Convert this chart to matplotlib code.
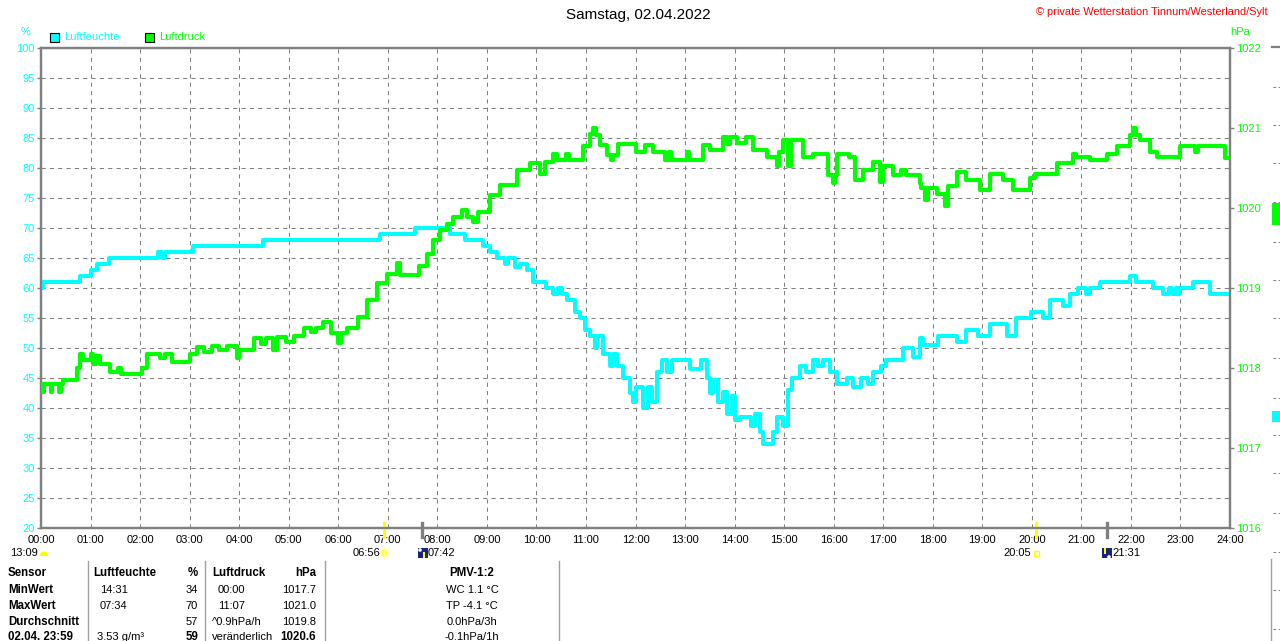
import matplotlib
matplotlib.use("Agg")
import matplotlib.pyplot as plt
from matplotlib.patches import Rectangle, Circle, Wedge
from matplotlib.lines import Line2D
from matplotlib.transforms import IdentityTransform

plt.rcParams['font.family'] = ['Liberation Sans', 'DejaVu Sans']

# ---------------- data ----------------
title = "Samstag, 02.04.2022"
copyright_text = "\u00a9 private Wetterstation Tinnum/Westerland/Sylt"
hour_labels = ["%02d:00" % h for h in range(25)]
hum_ticks = list(range(20, 101, 5))
pres_ticks = [1016, 1017, 1018, 1019, 1020, 1021, 1022]

# humidity (%) : (hour, value)
humidity = [
    (0.0, 60), (0.05, 61), (0.79, 62), (1.0, 63), (1.13, 64), (1.37, 65), (2.36, 66), (2.45, 65),
    (2.5, 66), (3.07, 67), (4.48, 68), (6.84, 69), (7.55, 70), (8.25, 69), (8.56, 68), (8.93, 67),
    (9.06, 66), (9.2, 65), (9.36, 64), (9.43, 65), (9.57, 63.5), (9.67, 64), (9.8, 63), (9.94, 61),
    (10.2, 60), (10.34, 59), (10.44, 60), (10.51, 59), (10.61, 58), (10.78, 56), (10.88, 55),
    (10.98, 53), (11.08, 52), (11.18, 50), (11.22, 52), (11.35, 49), (11.48, 47), (11.55, 49),
    (11.62, 47), (11.75, 45), (11.89, 42.5), (11.95, 41), (12.02, 43.5), (12.16, 40), (12.26, 43.5),
    (12.33, 41), (12.43, 46), (12.53, 48), (12.63, 46), (12.73, 48), (13.1, 46.5), (13.33, 48),
    (13.44, 45), (13.5, 42.5), (13.57, 44.7), (13.67, 41), (13.77, 42.7), (13.84, 39), (13.94, 42),
    (14.0, 38), (14.11, 38.5), (14.34, 37), (14.41, 39), (14.51, 36), (14.58, 34), (14.78, 36),
    (14.85, 38.5), (14.98, 37), (15.08, 43), (15.15, 45), (15.32, 47), (15.45, 46), (15.59, 48),
    (15.69, 47), (15.79, 48), (15.93, 46), (16.06, 44), (16.26, 45), (16.4, 43.5), (16.55, 45),
    (16.7, 44), (16.8, 46), (16.95, 47), (17.05, 48), (17.4, 50), (17.6, 48.5), (17.74, 51.7),
    (17.8, 50.5), (18.1, 52), (18.48, 51), (18.68, 53), (18.92, 52), (19.15, 54), (19.49, 52),
    (19.69, 55), (19.99, 56), (20.23, 55), (20.36, 58), (20.63, 57), (20.77, 59), (20.93, 60),
    (21.1, 59), (21.17, 60), (21.37, 61), (21.98, 62), (22.1, 61), (22.45, 60), (22.65, 59),
    (22.76, 60), (22.83, 59), (22.9, 60), (22.96, 59), (23.0, 60), (23.25, 61), (23.6, 59), (24.0, 59),
]

# air pressure (hPa) : (hour, value)
pressure = [
    (0.0, 1017.8), (0.03, 1017.7), (0.06, 1017.8), (0.2, 1017.7), (0.23, 1017.8), (0.37, 1017.7),
    (0.4, 1017.8), (0.45, 1017.85), (0.72, 1018.0), (0.79, 1018.18), (0.85, 1018.1), (1.0, 1018.18),
    (1.05, 1018.05), (1.12, 1018.15), (1.2, 1018.05), (1.4, 1017.95), (1.55, 1018.0), (1.62, 1017.92),
    (2.03, 1018.0), (2.13, 1018.18), (2.4, 1018.12), (2.5, 1018.18), (2.64, 1018.08), (3.0, 1018.18),
    (3.15, 1018.26), (3.3, 1018.2), (3.45, 1018.27), (3.6, 1018.22), (3.75, 1018.27), (3.95, 1018.12),
    (4.0, 1018.23), (4.29, 1018.37), (4.45, 1018.3), (4.55, 1018.37), (4.69, 1018.23), (4.76, 1018.39),
    (4.95, 1018.33), (5.1, 1018.4), (5.3, 1018.5), (5.45, 1018.45), (5.55, 1018.5), (5.7, 1018.58),
    (5.85, 1018.44), (6.0, 1018.31), (6.05, 1018.44), (6.17, 1018.5), (6.4, 1018.64), (6.58, 1018.85),
    (6.78, 1019.06), (6.98, 1019.18), (7.18, 1019.31), (7.25, 1019.16), (7.62, 1019.27), (7.79, 1019.43),
    (7.92, 1019.6), (8.05, 1019.72), (8.2, 1019.8), (8.32, 1019.89), (8.5, 1019.98), (8.6, 1019.89),
    (8.72, 1019.83), (8.83, 1019.95), (9.06, 1020.16), (9.26, 1020.29), (9.6, 1020.48), (9.87, 1020.56),
    (10.07, 1020.43), (10.17, 1020.58), (10.34, 1020.68), (10.41, 1020.6), (10.6, 1020.68),
    (10.65, 1020.6), (10.95, 1020.77), (11.08, 1020.93), (11.15, 1021.0), (11.2, 1020.91),
    (11.28, 1020.79), (11.42, 1020.66), (11.5, 1020.6), (11.55, 1020.66), (11.65, 1020.8),
    (12.02, 1020.7), (12.19, 1020.79), (12.36, 1020.7), (12.59, 1020.6), (12.68, 1020.7),
    (12.72, 1020.6), (13.03, 1020.7), (13.08, 1020.6), (13.37, 1020.79), (13.5, 1020.73),
    (13.77, 1020.89), (13.85, 1020.8), (13.9, 1020.89), (14.04, 1020.81), (14.24, 1020.89),
    (14.38, 1020.73), (14.65, 1020.64), (14.85, 1020.52), (14.9, 1020.7), (14.98, 1020.85),
    (15.08, 1020.52), (15.13, 1020.85), (15.39, 1020.64), (15.59, 1020.68), (15.89, 1020.41),
    (15.98, 1020.31), (16.03, 1020.41), (16.06, 1020.68), (16.3, 1020.64), (16.43, 1020.35),
    (16.59, 1020.48), (16.8, 1020.58), (16.93, 1020.33), (17.0, 1020.52), (17.2, 1020.41),
    (17.35, 1020.48), (17.45, 1020.41), (17.74, 1020.31), (17.77, 1020.25), (17.85, 1020.1),
    (17.9, 1020.25), (18.08, 1020.18), (18.24, 1020.02), (18.31, 1020.27), (18.48, 1020.45),
    (18.68, 1020.35), (18.95, 1020.22), (19.15, 1020.43), (19.42, 1020.35), (19.62, 1020.22),
    (19.96, 1020.37), (20.06, 1020.43), (20.5, 1020.56), (20.83, 1020.68), (20.9, 1020.64),
    (21.17, 1020.6), (21.51, 1020.68), (21.71, 1020.77), (21.98, 1020.91), (22.05, 1021.0),
    (22.11, 1020.91), (22.18, 1020.85), (22.38, 1020.7), (22.52, 1020.64), (22.99, 1020.77),
    (23.3, 1020.7), (23.35, 1020.77), (23.9, 1020.62), (24.0, 1020.62),
]

# sun / moon events (hour)
sunrise, sunset = 6 + 56 / 60, 20 + 5 / 60
moonrise, moonset = 7 + 42 / 60, 21 + 31 / 60
daylength = "13:09"

table_col1 = ["Sensor", "MinWert", "MaxWert", "Durchschnitt", "02.04. 23:59"]
table_hum_time = ["", "14:31", "07:34", "", "3.53 g/m\u00b3"]
table_hum_val = ["%", "34", "70", "57", "59"]
table_pres_time = ["", "00:00", "11:07", "^0.9hPa/h", "ver\u00e4nderlich"]
table_pres_val = ["hPa", "1017.7", "1021.0", "1019.8", "1020.6"]
table_pmv = ["PMV-1:2", "WC 1.1 \u00b0C", "TP -4.1 \u00b0C", "0.0hPa/3h", "-0.1hPa/1h"]

# ---------------- styling ----------------
CYAN = "#00FFFF"
GREEN = "#00FF00"
YELLOW = "#FFFF00"
NAVY = "#1a237e"
GRAY = "#808080"
W, H = 1280, 641
PIX = IdentityTransform()


def fx(x):
    return x / W


def fy(y):
    return 1 - y / H


def px(x, y):
    return (x, H - y)


fig = plt.figure(figsize=(12.8, 6.41), dpi=100)
fig.patch.set_facecolor("white")

L, R, T, B = 41, 1230, 48, 528
ax = fig.add_axes([fx(L), fy(B), (R - L) / W, (B - T) / H])
ax.set_xlim(0, 24)
ax.set_ylim(20, 100)
ax2 = ax.twinx()
ax2.set_ylim(1016, 1022)

for a in (ax, ax2):
    for s in a.spines.values():
        s.set_color(GRAY)
        s.set_linewidth(1.6)

ax.set_xticks(range(25))
ax.set_xticklabels(hour_labels, fontsize=8)
ax.set_yticks(hum_ticks)
ax.set_yticklabels([str(v) for v in hum_ticks], fontsize=8, color=CYAN)
ax.tick_params(axis="x", length=0, pad=5)
ax.tick_params(axis="y", length=3, width=1, color=GRAY, pad=1.5)
ax.grid(True, color=GRAY, linewidth=0.75, linestyle=(0, (4, 4)))
ax.set_axisbelow(True)

ax2.set_yticks(pres_ticks)
ax2.set_yticklabels([str(v) for v in pres_ticks], fontsize=8, color=GREEN)
ax2.tick_params(axis="y", length=3, width=1, color=GRAY, pad=1.5)

ht = [p[0] for p in humidity]
hv = [p[1] for p in humidity]
pt = [p[0] for p in pressure]
pv = [p[1] for p in pressure]
ax.step(ht, hv, where="post", color=CYAN, linewidth=2.9, zorder=3)
ax2.step(pt, pv, where="post", color=GREEN, linewidth=3.0, zorder=3)

# sun / moon markers on the x axis
xt = ax.get_xaxis_transform()
for t in (sunrise, sunset):
    ax.add_line(Line2D([t, t], [(B - 523) / 480, (B - 537) / 480], transform=xt,
                       color=YELLOW, linewidth=2.2, clip_on=False, zorder=5))
for t in (moonrise, moonset):
    ax.add_line(Line2D([t, t], [(B - 523) / 480, (B - 537) / 480], transform=xt,
                       color=GRAY, linewidth=2.4, clip_on=False, zorder=5))

# titles
fig.text(fx(638), fy(15), title, ha="center", va="center", fontsize=11)
fig.text(fx(1268), fy(12), copyright_text, ha="right", va="center", fontsize=7.9, color="red")
fig.text(fx(26), fy(32), "%", ha="center", va="center", fontsize=8, color=CYAN)
fig.text(fx(1240), fy(32), "hPa", ha="center", va="center", fontsize=8, color=GREEN)

# legend
for x0, col, lab in ((50, CYAN, "Luftfeuchte"), (145, GREEN, "Luftdruck")):
    fig.patches.append(Rectangle(px(x0, 42), 9, 9, transform=PIX,
                                 facecolor=col, edgecolor="black", linewidth=0.8))
    fig.text(fx(x0 + 14), fy(37.5), lab, ha="left", va="center", fontsize=8, color=col)

# sun / moon labels
ly = 553
fig.text(fx(10), fy(ly), daylength, ha="left", va="center", fontsize=8)
fig.patches.append(Wedge(px(44, ly + 3), 4.5, 0, 180, transform=PIX,
                         facecolor=YELLOW, edgecolor="none"))
fig.text(fx(380), fy(ly), "%02d:%02d" % (int(sunrise), round((sunrise % 1) * 60)),
         ha="right", va="center", fontsize=8)
for dx, dy in ((-5, 0), (5, 0), (0, -5), (0, 5), (-4, -4), (4, 4), (-4, 4), (4, -4)):
    fig.add_artist(Line2D([384, 384 + dx], [H - ly, H - ly - dy], transform=PIX,
                          color="#FFFF80", linewidth=0.8))
fig.patches.append(Circle(px(384, ly), 3.2, transform=PIX, facecolor=YELLOW, edgecolor="none"))
fig.patches.append(Rectangle(px(418, ly + 5), 10, 10, transform=PIX,
                             facecolor=NAVY, edgecolor="none"))
fig.patches.append(Circle(px(420, ly - 3), 1.8, transform=PIX, facecolor="white", edgecolor="none"))
fig.patches.append(Rectangle(px(423, ly + 5), 2, 6, transform=PIX,
                             facecolor=YELLOW, edgecolor="none"))
fig.text(fx(428), fy(ly), "%02d:%02d" % (int(moonrise), round((moonrise % 1) * 60)),
         ha="left", va="center", fontsize=8)
fig.text(fx(1031), fy(ly), "%02d:%02d" % (int(sunset), round((sunset % 1) * 60)),
         ha="right", va="center", fontsize=8)
fig.patches.append(Rectangle(px(1034, ly + 3), 5, 5, transform=PIX,
                             facecolor="none", edgecolor=YELLOW, linewidth=1))
fig.patches.append(Rectangle(px(1102, ly + 5), 10, 10, transform=PIX,
                             facecolor=NAVY, edgecolor="none"))
fig.patches.append(Rectangle(px(1104, ly + 1), 2, 6, transform=PIX,
                             facecolor=YELLOW, edgecolor="none"))
fig.patches.append(Circle(px(1109, ly + 4), 1.8, transform=PIX, facecolor="white", edgecolor="none"))
fig.text(fx(1112), fy(ly), "%02d:%02d" % (int(moonset), round((moonset % 1) * 60)),
         ha="left", va="center", fontsize=8)

# table
for xl in (88, 205, 325, 559):
    fig.add_artist(Line2D([fx(xl), fx(xl)], [fy(561), fy(641)], transform=fig.transFigure,
                          color="#a0a0a0", linewidth=1))
rows_y = [573, 590, 606, 622, 637]
for i, yy in enumerate(rows_y):
    fig.text(fx(8), fy(yy), table_col1[i], ha="left", va="center", fontsize=8.3, fontweight="bold")
    if i == 0:
        fig.text(fx(93), fy(yy), "Luftfeuchte", ha="left", va="center", fontsize=8.3, fontweight="bold")
        fig.text(fx(212), fy(yy), "Luftdruck", ha="left", va="center", fontsize=8.3, fontweight="bold")
    else:
        fig.text(fx(100 if i < 4 else 97), fy(yy), table_hum_time[i], ha="left", va="center", fontsize=8)
        fig.text(fx(218 if i < 3 else 212), fy(yy), table_pres_time[i], ha="left", va="center", fontsize=8)
    bold = "bold" if i in (0, 4) else "normal"
    fig.text(fx(198), fy(yy), table_hum_val[i], ha="right", va="center", fontsize=8.3 if bold == "bold" else 8,
             fontweight=bold)
    fig.text(fx(316), fy(yy), table_pres_val[i], ha="right", va="center", fontsize=8.3 if bold == "bold" else 8,
             fontweight=bold)
    fig.text(fx(472), fy(yy), table_pmv[i], ha="center", va="center", fontsize=8.3 if i == 0 else 8,
             fontweight="bold" if i == 0 else "normal")

# partially visible neighbouring panel at the right edge
fig.add_artist(Line2D([fx(1272), fx(1280)], [fy(47), fy(47)], transform=fig.transFigure,
                      color=GRAY, linewidth=1.6))
for yy in (87, 125, 163, 202, 242, 280, 318, 358, 398, 435, 473, 513, 552, 590, 629):
    fig.add_artist(Line2D([fx(1273), fx(1280)], [fy(yy), fy(yy)], transform=fig.transFigure,
                          color=GRAY, linewidth=0.75, linestyle=(0, (2.5, 2.5))))
fig.patches.append(Rectangle(px(1272, 225), 8, 22, transform=PIX,
                             facecolor=GREEN, edgecolor="none"))
fig.patches.append(Rectangle(px(1272, 422), 8, 11, transform=PIX,
                             facecolor=CYAN, edgecolor="none"))
fig.add_artist(Line2D([fx(1271), fx(1271)], [fy(559), fy(641)], transform=fig.transFigure,
                      color="#a0a0a0", linewidth=1))

fig.savefig("out.png", dpi=100, facecolor="white")
